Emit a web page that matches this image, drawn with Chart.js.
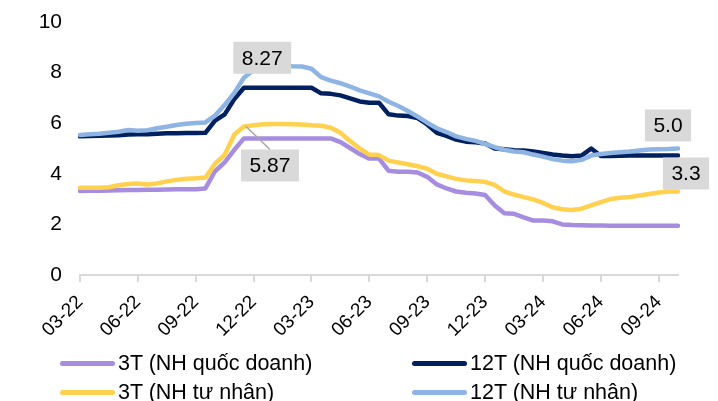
<!DOCTYPE html>
<html>
<head>
<meta charset="utf-8">
<script src="https://cdn.jsdelivr.net/npm/chart.js@4/dist/chart.umd.min.js"></script>
<style>
  html, body { margin: 0; padding: 0; background: #fff; }
  #wrap { position: relative; width: 718px; height: 401px; overflow: hidden; font-family: "Liberation Sans", Arial, sans-serif; }
  #c { position: absolute; left: 0; top: 0; }
  .lg { position: absolute; display: flex; align-items: center; font-size: 21.5px; color: #000; white-space: nowrap; line-height: 22px; }
  .lg .sw { width: 55px; height: 5px; border-radius: 3px; margin-right: 3px; }
</style>
</head>
<body>
<div id="wrap">
  <canvas id="c" width="718" height="401"></canvas>
  <div id="legend"></div>
</div>
<script>
// ---- Data ----
const categories = [
  '01/03/22','16/03/22','01/04/22','16/04/22','01/05/22','16/05/22','01/06/22','16/06/22','01/07/22','16/07/22',
  '01/08/22','16/08/22','01/09/22','16/09/22','01/10/22','16/10/22','01/11/22','16/11/22','01/12/22','16/12/22',
  '01/01/23','16/01/23','01/02/23','16/02/23','01/03/23','16/03/23','01/04/23','16/04/23','01/05/23','16/05/23',
  '01/06/23','16/06/23','01/07/23','16/07/23','01/08/23','16/08/23','01/09/23','16/09/23','01/10/23','16/10/23',
  '01/11/23','16/11/23','01/12/23','16/12/23','01/01/24','16/01/24','01/02/24','16/02/24','01/03/24','16/03/24',
  '01/04/24','16/04/24','01/05/24','16/05/24','01/06/24','16/06/24','01/07/24','16/07/24','01/08/24','16/08/24',
  '01/09/24','16/09/24','01/10/24'
];
const tickLabels = ['03-22','06-22','09-22','12-22','03-23','06-23','09-23','12-23','03-24','06-24','09-24'];

const seriesNames = ['3T (NH quốc doanh)', '12T (NH quốc doanh)', '3T (NH tư nhân)', '12T (NH tư nhân)'];

const state3M = [
  3.32,3.33,3.33,3.34,3.35,3.36,3.36,3.37,3.37,3.38,
  3.39,3.39,3.39,3.42,4.10,4.45,4.95,5.40,5.40,5.40,
  5.40,5.40,5.40,5.40,5.40,5.40,5.40,5.25,5.02,4.78,
  4.60,4.60,4.12,4.08,4.08,4.05,3.88,3.58,3.42,3.30,
  3.25,3.22,3.16,2.75,2.44,2.42,2.28,2.15,2.15,2.12,
  2.00,1.98,1.97,1.96,1.96,1.95,1.95,1.95,1.95,1.95,
  1.95,1.95,1.95
];
const state12M = [
  5.48,5.49,5.50,5.51,5.52,5.55,5.56,5.56,5.58,5.60,
  5.60,5.61,5.61,5.62,6.10,6.35,6.95,7.40,7.40,7.40,
  7.40,7.40,7.40,7.40,7.40,7.18,7.16,7.10,6.98,6.86,
  6.81,6.81,6.35,6.30,6.28,6.20,5.95,5.62,5.50,5.35,
  5.27,5.25,5.20,5.00,4.97,4.93,4.92,4.88,4.82,4.76,
  4.72,4.69,4.72,5.00,4.70,4.70,4.71,4.72,4.72,4.72,
  4.72,4.72,4.72
];
const private3M = [
  3.45,3.45,3.45,3.47,3.55,3.60,3.62,3.58,3.62,3.70,
  3.76,3.80,3.82,3.85,4.40,4.75,5.55,5.87,5.92,5.96,
  5.97,5.97,5.96,5.95,5.92,5.90,5.82,5.62,5.30,5.00,
  4.76,4.74,4.52,4.45,4.38,4.30,4.20,4.00,3.90,3.80,
  3.74,3.72,3.68,3.56,3.30,3.18,3.08,2.99,2.85,2.68,
  2.60,2.57,2.62,2.75,2.88,3.00,3.05,3.08,3.14,3.20,
  3.26,3.30,3.30
];
const private12M = [
  5.53,5.56,5.58,5.62,5.66,5.73,5.70,5.72,5.80,5.86,
  5.93,5.98,6.01,6.03,6.30,6.72,7.20,7.80,8.10,8.27,
  8.27,8.27,8.25,8.24,8.15,7.82,7.68,7.58,7.45,7.30,
  7.18,7.06,6.85,6.68,6.48,6.26,6.02,5.80,5.65,5.48,
  5.38,5.30,5.18,5.05,4.95,4.88,4.85,4.76,4.68,4.58,
  4.52,4.50,4.55,4.72,4.78,4.82,4.85,4.88,4.92,4.96,
  4.97,4.98,5.00
];

const colors = ['#a68ddf', '#002060', '#ffd14f', '#8eb4e3'];

// Data callouts: dataset index, point index, decimals, offset of label box from point
const callouts = [
  { ds: 3, idx: 19, digits: 2, dx: -1, dy: -8 },
  { ds: 2, idx: 17, digits: 2, dx: 26, dy: 39, leader: true },
  { ds: 3, idx: 62, digits: 1, dx: -10, dy: -23 },
  { ds: 2, idx: 62, digits: 1, dx: 8, dy: -18 }
];

const calloutPlugin = {
  id: 'callouts',
  afterDatasetsDraw(chart) {
    const ctx = chart.ctx;
    ctx.save();
    ctx.font = '21px "Liberation Sans", Arial, sans-serif';
    ctx.textAlign = 'center';
    ctx.textBaseline = 'middle';
    callouts.forEach(c => {
      const el = chart.getDatasetMeta(c.ds).data[c.idx];
      const v = chart.data.datasets[c.ds].data[c.idx];
      const txt = v.toFixed(c.digits);
      const cx = el.x + c.dx, cy = el.y + c.dy;
      const w = ctx.measureText(txt).width + 17, h = 32;
      if (c.leader) {
        ctx.strokeStyle = '#a6a6a6';
        ctx.lineWidth = 1.5;
        ctx.beginPath();
        ctx.moveTo(el.x + 2, el.y);
        ctx.lineTo(cx, cy - h / 2);
        ctx.stroke();
      }
      ctx.fillStyle = '#d9d9d9';
      ctx.fillRect(cx - w / 2, cy - h / 2, w, h);
      ctx.fillStyle = '#000';
      ctx.fillText(txt, cx, cy + 1);
    });
    ctx.restore();
  }
};

const seriesData = [state3M, state12M, private3M, private12M];
const drawOrder = [4, 3, 2, 1];

const chart = new Chart(document.getElementById('c'), {
  type: 'line',
  data: {
    labels: categories,
    datasets: seriesNames.map((name, i) => ({
      label: name,
      data: seriesData[i],
      borderColor: colors[i],
      backgroundColor: colors[i],
      borderWidth: 4.5,
      pointRadius: 0,
      tension: 0,
      borderJoinStyle: 'round',
      borderCapStyle: 'round',
      order: drawOrder[i]
    }))
  },
  options: {
    responsive: false,
    animation: false,
    events: [],
    layout: { padding: { left: 0, right: 40, top: 22, bottom: 36 } },
    plugins: { legend: { display: false }, tooltip: { enabled: false } },
    scales: {
      x: {
        offset: false,
        border: { display: true, color: '#d9d9d9', width: 2 },
        grid: { display: true, drawOnChartArea: false, drawTicks: true, tickLength: 7, color: '#d9d9d9', lineWidth: 2 },
        ticks: {
          autoSkip: false,
          maxRotation: 45,
          minRotation: 45,
          padding: 9,
          color: '#000',
          font: { family: '"Liberation Sans", Arial, sans-serif', size: 19 },
          callback: (v, i) => (i % 6 === 0 ? tickLabels[i / 6] : null)
        },
        afterFit: s => { s.height = 90; }
      },
      y: {
        min: 0,
        max: 10,
        border: { display: false },
        grid: { display: true, drawOnChartArea: false, drawTicks: true, tickLength: 18, color: 'rgba(0,0,0,0)' },
        ticks: {
          stepSize: 2,
          padding: 0,
          color: '#000',
          font: { family: '"Liberation Sans", Arial, sans-serif', size: 21 }
        },
        afterFit: s => { s.width = 80; }
      }
    }
  },
  plugins: [calloutPlugin]
});

// ---- HTML legend built from the chart datasets ----
const legendPos = [
  { left: 60, top: 352 }, { left: 412, top: 352 },
  { left: 60, top: 381 }, { left: 412, top: 381 }
];
const legendEl = document.getElementById('legend');
chart.data.datasets.forEach((ds, i) => {
  const item = document.createElement('div');
  item.className = 'lg';
  item.style.left = legendPos[i].left + 'px';
  item.style.top = legendPos[i].top + 'px';
  const sw = document.createElement('span');
  sw.className = 'sw';
  sw.style.background = ds.borderColor;
  const tx = document.createElement('span');
  tx.textContent = ds.label;
  item.appendChild(sw);
  item.appendChild(tx);
  legendEl.appendChild(item);
});
</script>
</body>
</html>
